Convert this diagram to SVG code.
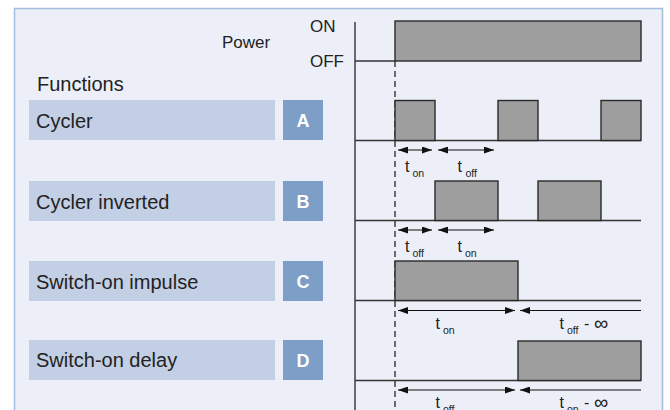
<svg xmlns="http://www.w3.org/2000/svg" width="670" height="410" viewBox="0 0 670 410">
<defs>
<marker id="ah" viewBox="0 0 10 7" refX="10" refY="3.5" markerWidth="10" markerHeight="7" markerUnits="userSpaceOnUse" orient="auto-start-reverse">
<path d="M0,0 L10,3.5 L0,7 Z" fill="#111"/>
</marker>
</defs>
<style>
.lbl{font-family:"Liberation Sans",Arial,sans-serif;font-size:20px;fill:#222}
.box{fill:#c3cfe4}
.let{fill:#7c9ec7}
.lt{font-family:"Liberation Sans",Arial,sans-serif;font-size:18px;font-weight:bold;fill:#fff}
.ax{font-family:"Liberation Sans",Arial,sans-serif;font-size:17px;fill:#222}
.pulse{fill:#9e9e9e;stroke:#2a2a2a;stroke-width:1.4}
.base{stroke:#333;stroke-width:1.4;fill:none}
.arr{stroke:#111;stroke-width:1.2;fill:none}
.t{font-family:"Liberation Sans",Arial,sans-serif;font-size:16px;fill:#222}
.s{font-family:"Liberation Sans",Arial,sans-serif;font-size:10.5px;fill:#222}
.inf{font-family:"Liberation Sans",Arial,sans-serif;font-size:20px;fill:#222}
</style>
<rect x="0" y="0" width="670" height="410" fill="#ffffff"/>
<rect x="14.5" y="8.5" width="648" height="420" fill="#eceff7" stroke="#a3bde0" stroke-width="1.5"/>

<g id="power">
<text class="ax" x="222" y="48" font-size="17.5">Power</text>
<text class="ax" x="310" y="31.5">ON</text>
<text class="ax" x="310" y="66.5">OFF</text>
</g>
<text class="lbl" x="37" y="91">Functions</text>

<g id="axis">
<line class="base" x1="355" y1="22" x2="355" y2="410"/>
<line class="base" x1="355" y1="61" x2="395" y2="61"/>
<rect class="pulse" x="395" y="21" width="246" height="40"/>
<line x1="395" y1="61" x2="395" y2="410" stroke="#222" stroke-width="1.3" stroke-dasharray="6,4"/>
</g>

<g id="nodeA">
<rect class="box" x="29" y="100" width="246" height="40"/>
<text class="lbl" x="36" y="127.5">Cycler</text>
<rect class="let" x="283" y="100" width="40" height="40"/>
<text class="lt" x="303" y="127" text-anchor="middle">A</text>
<line class="base" x1="355" y1="140.5" x2="641" y2="140.5"/>
<rect class="pulse" x="395" y="100.5" width="40" height="40"/>
<rect class="pulse" x="498" y="100.5" width="40" height="40"/>
<rect class="pulse" x="601" y="100.5" width="40" height="40"/>
</g>

<g id="nodeB">
<rect class="box" x="29" y="181" width="246" height="40"/>
<text class="lbl" x="36" y="208.5">Cycler inverted</text>
<rect class="let" x="283" y="181" width="40" height="40"/>
<text class="lt" x="303" y="208" text-anchor="middle">B</text>
<line class="base" x1="355" y1="220.5" x2="641" y2="220.5"/>
<rect class="pulse" x="435" y="181" width="63" height="39.5"/>
<rect class="pulse" x="538" y="181" width="63" height="39.5"/>
</g>

<g id="nodeC">
<rect class="box" x="29" y="261" width="246" height="40"/>
<text class="lbl" x="36" y="288.5">Switch-on impulse</text>
<rect class="let" x="283" y="261" width="40" height="40"/>
<text class="lt" x="303" y="288" text-anchor="middle">C</text>
<line class="base" x1="355" y1="300.5" x2="641" y2="300.5"/>
<rect class="pulse" x="395" y="261" width="123" height="39.5"/>
</g>

<g id="nodeD">
<rect class="box" x="29" y="340" width="246" height="40"/>
<text class="lbl" x="36" y="367">Switch-on delay</text>
<rect class="let" x="283" y="340" width="40" height="40"/>
<text class="lt" x="303" y="367" text-anchor="middle">D</text>
<line class="base" x1="355" y1="380.5" x2="641" y2="380.5"/>
<rect class="pulse" x="518" y="341" width="123" height="39.5"/>
</g>

<g id="connectors">
<line class="arr" x1="398" y1="150" x2="432" y2="150" marker-start="url(#ah)" marker-end="url(#ah)"/>
<line class="arr" x1="438" y1="150" x2="494" y2="150" marker-start="url(#ah)" marker-end="url(#ah)"/>
<line class="arr" x1="398" y1="230" x2="432" y2="230" marker-start="url(#ah)" marker-end="url(#ah)"/>
<line class="arr" x1="438" y1="230" x2="494" y2="230" marker-start="url(#ah)" marker-end="url(#ah)"/>
<line class="arr" x1="398" y1="310.5" x2="515" y2="310.5" marker-start="url(#ah)" marker-end="url(#ah)"/>
<line class="arr" x1="520" y1="310.5" x2="641" y2="310.5" marker-start="url(#ah)"/>
<line class="arr" x1="398" y1="390" x2="515" y2="390" marker-start="url(#ah)" marker-end="url(#ah)"/>
<line class="arr" x1="520" y1="390" x2="641" y2="390" marker-start="url(#ah)"/>
</g>

<g id="labels">
<text class="t" x="405" y="171.5">t</text><text class="s" x="412.5" y="176.5">on</text>
<text class="t" x="457.5" y="171.5">t</text><text class="s" x="465.5" y="176.5">off</text>
<text class="t" x="405" y="251.5">t</text><text class="s" x="412.5" y="256.5">off</text>
<text class="t" x="457.5" y="251.5">t</text><text class="s" x="465" y="256.5">on</text>
<text class="t" x="435.5" y="329">t</text><text class="s" x="443" y="334">on</text>
<text class="t" x="559.5" y="329">t</text><text class="s" x="567" y="334">off</text><text class="t" x="584" y="329">-</text><text class="inf" x="594" y="330">∞</text>
<text class="t" x="435.5" y="408">t</text><text class="s" x="443" y="413">off</text>
<text class="t" x="559.5" y="408">t</text><text class="s" x="567" y="413">on</text><text class="t" x="584" y="408">-</text><text class="inf" x="594" y="409">∞</text>
</g>
</svg>
